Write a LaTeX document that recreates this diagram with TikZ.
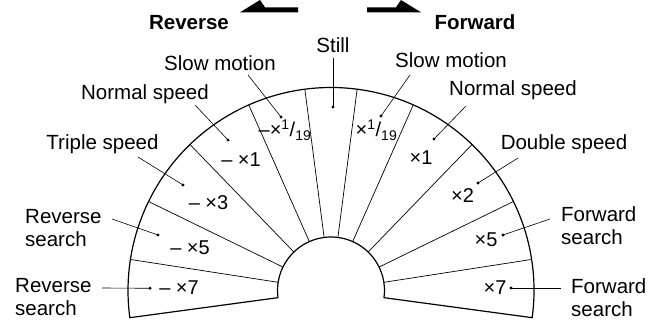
\documentclass[tikz,border=0pt]{standalone}
\usepackage{fontspec}
\setmainfont{Liberation Sans}
\usetikzlibrary{calc}
\tikzset{
  lbl/.style={inner sep=0pt,font=\fontsize{20.5}{23}\selectfont,align=left},
  hdr/.style={inner sep=0pt,font=\fontsize{20.5}{23}\selectfont\bfseries},
  val/.style={inner sep=0pt,font=\fontsize{20}{22}\selectfont},
  leader/.style={line width=0.6pt},
  divider/.style={line width=0.7pt},
  rim/.style={line width=1.2pt,line join=round},
}

\begin{document}
\begin{tikzpicture}[x=1pt,y=1pt]
  \useasboundingbox (0,0) rectangle (658,320);
  \coordinate (c) at (331,29.5);
  % fan: outer rim, hub and the two bottom edges
  \draw[rim] ($(c)+(-7.7:53.5)$) -- ($(c)+(-7.7:203)$)
        arc[start angle=-7.7,end angle=187.7,radius=203]
        -- ($(c)+(187.7:53.5)$)
        arc[start angle=187.7,end angle=-7.7,radius=53.5] -- cycle;
  \foreach \a in {8.8,26,46,66.1,82.6,97.4,113.9,134,154,171.2}
    {\draw[divider] ($(c)+(\a:53.5)$) -- ($(c)+(\a:203)$);}

  % direction arrows
  \fill (240,307.7) -- (298,307.7) -- (298,312.7) -- (265,312.7) -- (260,320) -- cycle;
  \fill (367,307.7) -- (421,307.7) -- (401,320) -- (396,312.7) -- (367,312.7) -- cycle;
  \node[hdr,anchor=base] (rev) at (189,290) {Reverse};
  \node[hdr,anchor=base] (fwd) at (475,290) {Forward};

  % mode labels (base = last line)
  \node[lbl,anchor=base] (still)  at (333,267)   {Still};
  \node[lbl,anchor=base] (slowl)  at (220,249.3) {Slow motion};
  \node[lbl,anchor=base] (slowr)  at (451,252)   {Slow motion};
  \node[lbl,anchor=base] (norml)  at (145,220)   {Normal speed};
  \node[lbl,anchor=base] (normr)  at (513,224.5) {Normal speed};
  \node[lbl,anchor=base] (triple) at (102.5,170) {Triple speed};
  \node[lbl,anchor=base] (double) at (564,170)   {Double speed};
  \node[lbl,anchor=base west] (revsa) at (25,73)  {Reverse\\search};
  \node[lbl,anchor=base west] (revsb) at (15,4)   {Reverse\\search};
  \node[lbl,anchor=base west] (fwdsa) at (561,75) {Forward\\search};
  \node[lbl,anchor=base west] (fwdsb) at (571,3)  {Forward\\search};

  % speed factors
  \node[val,anchor=base] (v7l) at (179,25)    {– ×7};
  \node[val,anchor=base] (v5l) at (190,65)    {– ×5};
  \node[val,anchor=base] (v3l) at (208.5,110) {– ×3};
  \node[val,anchor=base] (v1l) at (241,153)   {– ×1};
  \node[val,anchor=base] (vsl) at (285,183)   {–×\textsuperscript{1}/\textsubscript{19}};
  \node[val,anchor=base] (vsr) at (376.5,183) {×\textsuperscript{1}/\textsubscript{19}};
  \node[val,anchor=base] (v1r) at (421,155)   {×1};
  \node[val,anchor=base] (v2r) at (462.5,117) {×2};
  \node[val,anchor=base] (v5r) at (486,73)    {×5};
  \node[val,anchor=base] (v7r) at (495,25)    {×7};

  % leader dots
  \coordinate (d7l) at (150,31.7);  \coordinate (t7l) at (102,32);
  \coordinate (d5l) at (158,85);    \coordinate (t5l) at (112,101);
  \coordinate (d3l) at (183,135);   \coordinate (t3l) at (138,163);
  \coordinate (d1l) at (228,180);   \coordinate (t1l) at (195,215);
  \coordinate (dsl) at (281,203);   \coordinate (tsl) at (248,245);
  \coordinate (dst) at (333,213);   \coordinate (tst) at (333,262);
  \coordinate (dsr) at (381,204);   \coordinate (tsr) at (410,245);
  \coordinate (d1r) at (434,181);   \coordinate (t1r) at (466,214);
  \coordinate (d2r) at (478,137);   \coordinate (t2r) at (518,162);
  \coordinate (d5r) at (503,85);    \coordinate (t5r) at (550,101);
  \coordinate (d7r) at (511,32);    \coordinate (t7r) at (561,32);
  \foreach \k in {7l,5l,3l,1l,sl,st,sr,1r,2r,5r,7r}
    {\draw[leader] (t\k) -- (d\k);
     \fill (d\k) circle (1.7);}
\end{tikzpicture}
\end{document}
